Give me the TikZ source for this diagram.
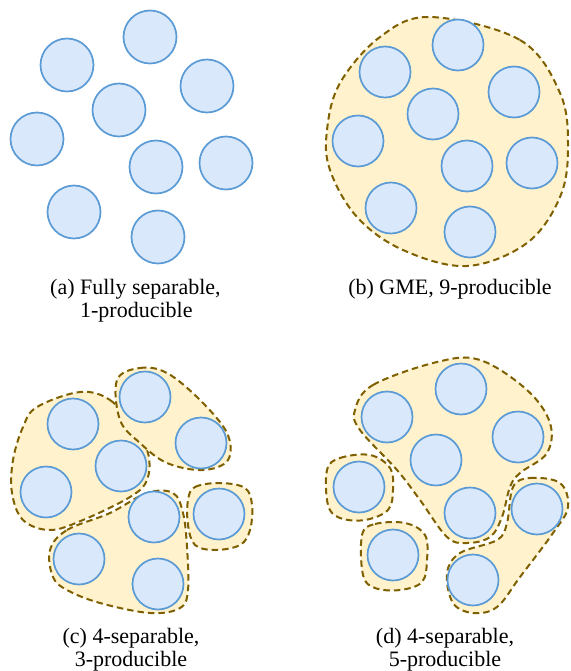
\documentclass[tikz,border=0pt]{standalone}
\usepackage{fontspec}
\setmainfont{Liberation Serif}
\definecolor{qfill}{HTML}{DAE8FC}
\definecolor{qline}{HTML}{5B9BD5}
\definecolor{gfill}{HTML}{FFF2CC}
\definecolor{gline}{HTML}{7F6000}
\tikzset{
  qubit/.style={circle, draw=qline, fill=qfill, line width=1.7pt, minimum size=51pt, inner sep=0pt},
  group/.style={draw=gline, fill=gfill, line width=2pt, dash pattern=on 6.5pt off 4pt},
  caption/.style={font=\fontsize{22}{23}\selectfont, inner sep=0pt, anchor=base},
}
\begin{document}
\begin{tikzpicture}[x=1pt, y=-1pt]
    \useasboundingbox (0,0) rectangle (570,671);
    \draw [group] plot [smooth cycle, tension=0.6] coordinates {(430,17) (520,40) (560,93) (568,147) (560,197) (527,243) (467,266) (403,250) (357,217) (330,170) (327,130) (340,83) (380,37)};
    \draw [group] plot [smooth cycle, tension=0.6] coordinates {(80,392) (110,400) (133,427) (148,453) (147,480) (130,497) (83,520) (50,530) (23,520) (12,493) (13,460) (23,427) (37,407)};
    \draw [group] plot [smooth cycle, tension=0.6] coordinates {(117,380) (140,368) (167,373) (200,400) (227,433) (228,460) (203,470) (167,463) (140,443) (120,420)};
    \draw [group] plot [smooth cycle, tension=0.6] coordinates {(50,550) (67,530) (110,513) (147,493) (173,493) (183,513) (187,547) (188,590) (180,608) (150,613) (100,603) (67,590) (53,577)};
    \draw [group] plot [smooth cycle, tension=0.6] coordinates {(188,500) (195,487) (220,483) (245,488) (252,505) (250,530) (240,545) (215,550) (195,545) (188,525)};
    \draw [group] plot [smooth cycle, tension=0.6] coordinates {(355,410) (373,385) (437,362) (480,360) (527,390) (550,423) (547,453) (520,473) (510,487) (502,517) (490,537) (467,543) (447,537) (420,500) (397,470) (360,430)};
    \draw [group] plot [smooth cycle, tension=0.6] coordinates {(327,470) (340,458) (370,455) (390,468) (393,490) (388,510) (365,520) (340,518) (328,505)};
    \draw [group] plot [smooth cycle, tension=0.6] coordinates {(362,535) (375,524) (405,523) (425,535) (427,560) (422,582) (400,590) (375,588) (363,575)};
    \draw [group] plot [smooth cycle, tension=0.6] coordinates {(513,487) (530,478) (560,483) (568,507) (553,533) (520,577) (497,607) (473,613) (453,603) (447,573) (460,553) (497,540) (507,523)};
    \node [qubit, minimum size=53pt] (a1) at (150,37)  {};
    \node [qubit, minimum size=53pt] (a2) at (67,65)   {};
    \node [qubit, minimum size=53pt] (a3) at (207,86)  {};
    \node [qubit, minimum size=53pt] (a4) at (119,110) {};
    \node [qubit, minimum size=53pt] (a5) at (37,139)  {};
    \node [qubit, minimum size=53pt] (a6) at (156,167) {};
    \node [qubit, minimum size=53pt] (a7) at (226,163) {};
    \node [qubit, minimum size=53pt] (a8) at (74,212)  {};
    \node [qubit, minimum size=53pt] (a9) at (158,237) {};
    \node [qubit] (b1) at (458,45)  {};
    \node [qubit] (b2) at (385,72)  {};
    \node [qubit] (b3) at (514,92)  {};
    \node [qubit] (b4) at (433,114) {};
    \node [qubit] (b5) at (358,141) {};
    \node [qubit] (b6) at (467,166) {};
    \node [qubit] (b7) at (532,163) {};
    \node [qubit] (b8) at (391,208) {};
    \node [qubit] (b9) at (470,232) {};
    \node [qubit] (c1) at (73,424)  {};
    \node [qubit] (c2) at (121,466) {};
    \node [qubit] (c3) at (46,492)  {};
    \node [qubit] (c4) at (145,397) {};
    \node [qubit] (c5) at (201,443) {};
    \node [qubit] (c6) at (154,517) {};
    \node [qubit] (c7) at (219,514) {};
    \node [qubit] (c8) at (79,559)  {};
    \node [qubit] (c9) at (158,584) {};
    \node [qubit] (d1) at (387,417) {};
    \node [qubit] (d2) at (461,389) {};
    \node [qubit] (d3) at (518,437) {};
    \node [qubit] (d4) at (436,460) {};
    \node [qubit] (d5) at (470,513) {};
    \node [qubit] (d6) at (359,487) {};
    \node [qubit] (d7) at (537,509) {};
    \node [qubit] (d8) at (393,555) {};
    \node [qubit] (d9) at (473,580) {};
    \node [caption, anchor=base west] (capa) at (50,294) {(a) \begin{tabular}[t]{@{}l@{}}Fully separable,\\1-producible\end{tabular}};
    \node [caption] (capb) at (450,294) {(b) GME, 9-producible};
    \node [caption] (capc) at (131,643) {\begin{tabular}[t]{@{}c@{}}(c) 4-separable,\\3-producible\end{tabular}};
    \node [caption] (capd) at (445,643) {\begin{tabular}[t]{@{}c@{}}(d) 4-separable,\\5-producible\end{tabular}};
\end{tikzpicture}
\end{document}
